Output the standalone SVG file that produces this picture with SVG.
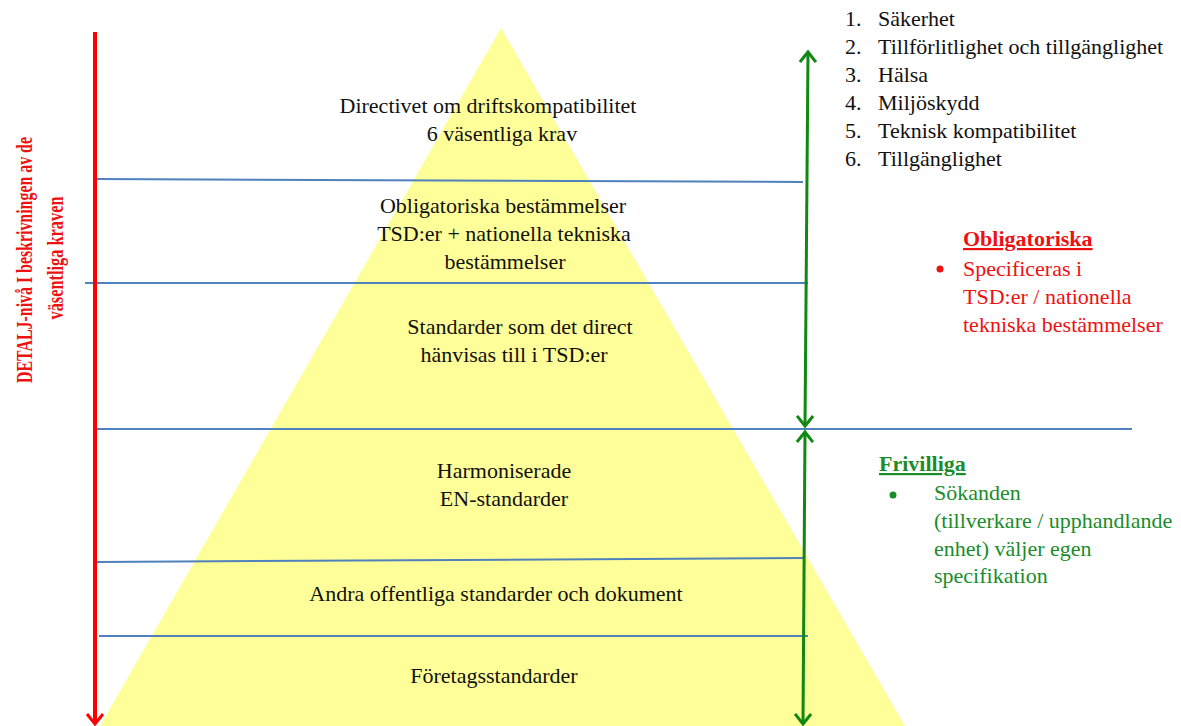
<svg xmlns="http://www.w3.org/2000/svg" width="1181" height="726" viewBox="0 0 1181 726">
<style>
.t{font-family:"Liberation Serif","DejaVu Serif",serif;font-size:22px;fill:#111;}
.c{text-anchor:middle;}
.blue{stroke:#4f81bd;stroke-width:2;fill:none;}
.red{fill:#ee1111;}
.grn{fill:#1a8c2a;}
.b{font-weight:bold;}
.rot{font-size:23px;}
</style>
<defs>
<marker id="garr" markerWidth="8" markerHeight="8" refX="0" refY="0" orient="auto-start-reverse" markerUnits="userSpaceOnUse" overflow="visible">
<path d="M-10,-8 L0,0 L-10,8" fill="none" stroke="#118811" stroke-width="3"/>
</marker>
</defs>
<rect width="1181" height="726" fill="#ffffff"/>
<g id="pyramid">
<polygon points="501,28 100,726 905,726" fill="#ffff99"/>
</g>
<g id="connectors">
<line class="blue" x1="97" y1="179" x2="803" y2="182"/>
<line class="blue" x1="85" y1="283" x2="808" y2="283"/>
<line class="blue" x1="93" y1="429" x2="1132" y2="429"/>
<line class="blue" x1="97" y1="562" x2="805" y2="558"/>
<line class="blue" x1="99" y1="636" x2="808" y2="636"/>
<line x1="95" y1="32" x2="95" y2="722" stroke="#ff0000" stroke-width="4"/>
<path d="M87,714 L95,724 L103,714" fill="none" stroke="#ff0000" stroke-width="3"/>
<line x1="808" y1="52" x2="805" y2="426" stroke="#118811" stroke-width="3" marker-start="url(#garr)" marker-end="url(#garr)"/>
<line x1="805" y1="432" x2="803" y2="724" stroke="#118811" stroke-width="3" marker-start="url(#garr)" marker-end="url(#garr)"/>
</g>
<g id="level1">
<text class="t c" x="488" y="113">Directivet om driftskompatibilitet</text>
<text class="t c" x="502" y="141">6 väsentliga krav</text>
</g>
<g id="level2">
<text class="t c" x="503" y="213">Obligatoriska bestämmelser</text>
<text class="t c" x="504" y="241">TSD:er + nationella tekniska</text>
<text class="t c" x="505" y="269">bestämmelser</text>
</g>
<g id="level3">
<text class="t c" x="520" y="334">Standarder som det direct</text>
<text class="t c" x="514" y="362">hänvisas till i TSD:er</text>
</g>
<g id="level4">
<text class="t c" x="504" y="478">Harmoniserade</text>
<text class="t c" x="504" y="506">EN-standarder</text>
</g>
<g id="level5">
<text class="t c" x="496" y="601">Andra offentliga standarder och dokument</text>
</g>
<g id="level6">
<text class="t c" x="494" y="683">Företagsstandarder</text>
</g>
<g id="requirements">
<text class="t" x="845" y="26">1.</text><text class="t" x="878" y="26">Säkerhet</text>
<text class="t" x="845" y="54">2.</text><text class="t" x="878" y="54">Tillförlitlighet och tillgänglighet</text>
<text class="t" x="845" y="82">3.</text><text class="t" x="878" y="82">Hälsa</text>
<text class="t" x="845" y="110">4.</text><text class="t" x="878" y="110">Miljöskydd</text>
<text class="t" x="845" y="138">5.</text><text class="t" x="878" y="138">Teknisk kompatibilitet</text>
<text class="t" x="845" y="166">6.</text><text class="t" x="878" y="166">Tillgänglighet</text>
</g>
<g id="obligatoriska">
<text class="t red b" x="963" y="246" text-decoration="underline">Obligatoriska</text>
<circle cx="940" cy="269" r="3.5" fill="#ee1111"/>
<text class="t red" x="963" y="276">Specificeras i</text>
<text class="t red" x="963" y="304">TSD:er / nationella</text>
<text class="t red" x="963" y="332">tekniska bestämmelser</text>
</g>
<g id="frivilliga">
<text class="t grn b" x="879" y="471" text-decoration="underline">Frivilliga</text>
<circle cx="893" cy="495" r="3.5" fill="#1a8c2a"/>
<text class="t grn" x="934" y="500">Sökanden</text>
<text class="t grn" x="934" y="528">(tillverkare / upphandlande</text>
<text class="t grn" x="934" y="556">enhet) väljer egen</text>
<text class="t grn" x="934" y="583">specifikation</text>
</g>
<g id="axis-label">
<text class="t rot red b c" transform="translate(32,260) rotate(-90)" textLength="246" lengthAdjust="spacingAndGlyphs">DETALJ-nivå I beskrivningen av de</text>
<text class="t rot red b c" transform="translate(63,258) rotate(-90)" textLength="123" lengthAdjust="spacingAndGlyphs">väsentliga kraven</text>
</g>
</svg>
